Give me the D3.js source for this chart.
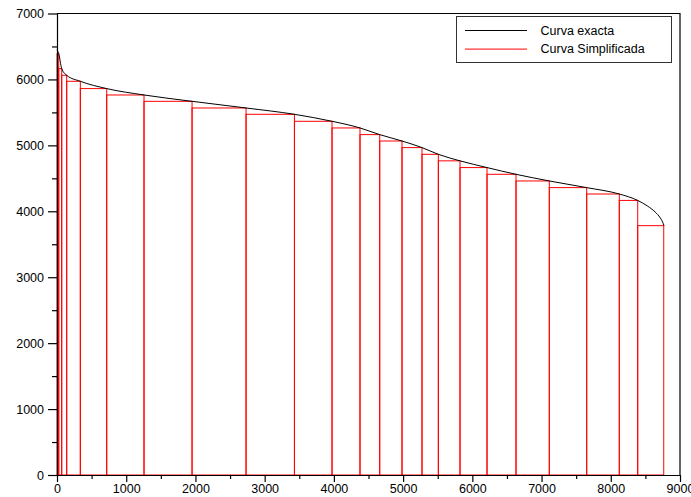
<!DOCTYPE html>
<html>
<head>
<meta charset="utf-8">
<script src="https://cdn.jsdelivr.net/npm/d3@7"></script>
<style>
  body { margin: 0; background: #fff; }
  text { font-family: "Liberation Sans", Arial, sans-serif; }
</style>
</head>
<body>
<script>
// bar boundaries (x) and heights of the simplified curve
var edges = [0, 25, 68, 140, 337, 718, 1257, 1951, 2731, 3430, 3973, 4377, 4662,
             4984, 5273, 5509, 5822, 6212, 6631, 7112, 7652, 8123, 8389, 8765];
var barHeights = [6390, 6165, 6063, 5972, 5861, 5764, 5668, 5567, 5471, 5365, 5264,
                  5163, 5066, 4966, 4864, 4765, 4663, 4561, 4460, 4359, 4262, 4165, 3782];

// exact curve
var curveX = [0, 25, 68, 140, 337, 718, 1257, 1951, 2731, 3430, 3973, 4377, 4662, 4984,
              5273, 5509, 5822, 6212, 6631, 7112, 7652, 8123, 8389, 8530, 8640, 8715, 8748, 8769];
var curveY = [6450, 6390, 6165, 6063, 5972, 5861, 5764, 5668, 5567, 5471, 5365, 5264, 5163, 5066,
              4966, 4864, 4765, 4663, 4561, 4460, 4359, 4262, 4165, 4080, 3990, 3900, 3840, 3782];

var xTicks = [0, 1000, 2000, 3000, 4000, 5000, 6000, 7000, 8000, 9000];
var yTicks = [0, 1000, 2000, 3000, 4000, 5000, 6000, 7000];
var legendLabels = ["Curva exacta", "Curva Simplificada"];
var legendColors = ["#000", "#ff0000"];

var width = 691, height = 497;
var margin = { top: 13.5, right: 11, bottom: 22, left: 57 };

var svg = d3.select("body").append("svg")
    .attr("width", width)
    .attr("height", height);

var x = d3.scaleLinear().domain([0, 9000]).range([margin.left, width - margin.right]);
var y = d3.scaleLinear().domain([0, 7000]).range([height - margin.bottom, margin.top]);

// simplified curve as rectangles
var bars = barHeights.map(function (h, i) {
    return { x0: edges[i], x1: edges[i + 1], h: h };
});

svg.append("g").selectAll("rect")
    .data(bars)
    .enter().append("rect")
    .attr("x", function (d) { return x(d.x0); })
    .attr("y", function (d) { return y(d.h); })
    .attr("width", function (d) { return x(d.x1) - x(d.x0); })
    .attr("height", function (d) { return y(0) - y(d.h); })
    .attr("fill", "none")
    .attr("stroke", "#ff0000")
    .attr("stroke-width", 1);

// exact curve
var pts = curveX.map(function (v, i) { return [v, curveY[i]]; });
var line = d3.line()
    .x(function (d) { return x(d[0]); })
    .y(function (d) { return y(d[1]); })
    .curve(d3.curveMonotoneX);

svg.append("path")
    .datum(pts)
    .attr("d", line)
    .attr("fill", "none")
    .attr("stroke", "#000")
    .attr("stroke-width", 1);

// frame
svg.append("path")
    .attr("d", "M" + x(0) + "," + y(7000) + "H" + x(9000) + "V" + y(0))
    .attr("fill", "none")
    .attr("stroke", "#000")
    .attr("stroke-width", 1.2);

// axes
var xMinor = d3.range(500, 9000, 1000);
var yMinor = d3.range(500, 7000, 1000);

var gx = svg.append("g")
    .attr("transform", "translate(0," + y(0) + ")");
gx.call(d3.axisBottom(x).tickValues(xTicks).tickSize(7).tickSizeOuter(0).tickPadding(2)
    .tickFormat(d3.format("d")));
gx.append("g").call(d3.axisBottom(x).tickValues(xMinor).tickSize(4).tickSizeOuter(0).tickFormat(""))
    .select(".domain").remove();

var gy = svg.append("g")
    .attr("transform", "translate(" + x(0) + ",0)");
gy.call(d3.axisLeft(y).tickValues(yTicks).tickSize(9).tickSizeOuter(0).tickPadding(4)
    .tickFormat(d3.format("d")));
gy.append("g").call(d3.axisLeft(y).tickValues(yMinor).tickSize(5).tickSizeOuter(0).tickFormat(""))
    .select(".domain").remove();

svg.selectAll(".domain").attr("stroke", "#000").attr("stroke-width", 1.2);
svg.selectAll(".tick line").attr("stroke", "#000").attr("stroke-width", 1.2);
svg.selectAll(".tick text")
    .attr("fill", "#000")
    .style("font-size", "12.5px")
    .style("font-family", "'Liberation Sans', Arial, sans-serif");

// legend
var legend = svg.append("g").attr("transform", "translate(456.5,16.5)");
legend.append("rect")
    .attr("width", 215)
    .attr("height", 46)
    .attr("fill", "#fff")
    .attr("stroke", "#333")
    .attr("stroke-width", 1);

var items = legend.selectAll("g.item")
    .data(legendLabels)
    .enter().append("g")
    .attr("class", "item")
    .attr("transform", function (d, i) { return "translate(0," + (14 + i * 18.6) + ")"; });

items.append("line")
    .attr("x1", 8.5).attr("x2", 70.5)
    .attr("stroke", function (d, i) { return legendColors[i]; })
    .attr("stroke-width", 1);

items.append("text")
    .attr("x", 84)
    .attr("dy", "0.35em")
    .style("font-size", "12.5px")
    .attr("fill", "#000")
    .text(function (d) { return d; });
</script>
</body>
</html>
